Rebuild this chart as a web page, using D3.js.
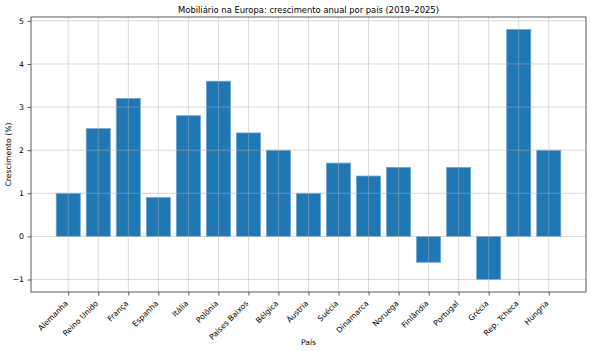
<!DOCTYPE html>
<html>
<head>
<meta charset="utf-8">
<script src="https://cdn.jsdelivr.net/npm/d3@7"></script>
<style>
  body { margin: 0; background: #fff; }
  text { font-family: 'DejaVu Sans', sans-serif; fill: #000; }
</style>
</head>
<body>
<div id="chart"></div>
<script>
// countries and yearly growth (%)
var countries = ['Alemanha', 'Reino Unido', 'França', 'Espanha', 'Itália', 'Polônia',
  'Países Baixos', 'Bélgica', 'Áustria', 'Suécia', 'Dinamarca', 'Noruega',
  'Finlândia', 'Portugal', 'Grécia', 'Rep. Tcheca', 'Hungria']
var growth = [1.0, 2.5, 3.2, 0.9, 2.8, 3.6, 2.4, 2.0, 1.0, 1.7, 1.4, 1.6, -0.6, 1.6, -1.0, 4.8, 2.0]
var yTicks = [-1, 0, 1, 2, 3, 4, 5]

var data = countries.map(function (c, i) { return { pais: c, valor: growth[i] } })

var margin = { top: 17, right: 5, bottom: 59, left: 31 }
var width = 591 - margin.left - margin.right
var height = 351 - margin.top - margin.bottom

var svg = d3.select('#chart')
  .append('svg')
  .attr('width', 591)
  .attr('height', 351)

var g = svg.append('g')
  .attr('transform', 'translate(' + margin.left + ',' + margin.top + ')')

// x like matplotlib: index positions with 5% margins
var x = d3.scaleLinear()
  .domain([-1.24, countries.length - 1 + 1.24])
  .range([0, width])
var barW = x(0.8) - x(0)

var ymin = d3.min(growth)
var ymax = d3.max(growth)
var pad = (ymax - ymin) * 0.05
var y = d3.scaleLinear()
  .domain([ymin - pad, ymax + pad])
  .range([height, 0])

// bars
g.selectAll('.bar')
  .data(data)
  .enter()
  .append('rect')
  .attr('class', 'bar')
  .attr('x', function (d, i) { return x(i) - barW / 2 })
  .attr('width', barW)
  .attr('y', function (d) { return y(Math.max(0, d.valor)) })
  .attr('height', function (d) { return Math.abs(y(d.valor) - y(0)) })
  .attr('fill', '#1f77b4')
  .attr('stroke', '#6fa3cf')
  .attr('stroke-width', 0.8)

// grid drawn over the bars
g.selectAll('.gx')
  .data(countries)
  .enter()
  .append('line')
  .attr('x1', function (d, i) { return x(i) })
  .attr('x2', function (d, i) { return x(i) })
  .attr('y1', 0)
  .attr('y2', height)
  .attr('stroke', '#b0b0b0')
  .attr('stroke-opacity', 0.6)
  .attr('stroke-width', 0.8)

g.selectAll('.gy')
  .data(yTicks)
  .enter()
  .append('line')
  .attr('x1', 0)
  .attr('x2', width)
  .attr('y1', function (d) { return y(d) })
  .attr('y2', function (d) { return y(d) })
  .attr('stroke', '#b0b0b0')
  .attr('stroke-opacity', 0.6)
  .attr('stroke-width', 0.8)

// frame
g.append('rect')
  .attr('width', width)
  .attr('height', height)
  .attr('fill', 'none')
  .attr('stroke', '#333')
  .attr('stroke-width', 0.8)

// y axis
var yAxis = d3.axisLeft(y)
  .tickValues(yTicks)
  .tickSize(3.5)
  .tickPadding(3.5)
  .tickFormat(function (d) { return d < 0 ? '\u2212' + Math.abs(d) : d })
var ya = g.append('g').call(yAxis)
ya.select('.domain').remove()
ya.selectAll('text').style('font-size', '7.7px')
ya.selectAll('line').attr('stroke', '#333').attr('stroke-width', 0.8)

// x axis
var xAxis = d3.axisBottom(x)
  .tickValues(d3.range(countries.length))
  .tickSize(3.5)
  .tickFormat(function (d) { return countries[d] })
var xa = g.append('g')
  .attr('transform', 'translate(0,' + height + ')')
  .call(xAxis)
xa.select('.domain').remove()
xa.selectAll('line').attr('stroke', '#333').attr('stroke-width', 0.8)
xa.selectAll('text')
  .style('font-size', '7.7px')
  .style('text-anchor', 'end')
  .attr('y', 0)
  .attr('dy', '0.35em')
  .attr('transform', 'translate(-2,10) rotate(-45)')

// title and labels
svg.append('text')
  .attr('x', margin.left + width / 2)
  .attr('y', 13)
  .style('text-anchor', 'middle')
  .style('font-size', '8.4px')
  .text('Mobiliário na Europa: crescimento anual por país (2019–2025)')

svg.append('text')
  .attr('x', margin.left + width / 2)
  .attr('y', 345)
  .style('text-anchor', 'middle')
  .style('font-size', '7.7px')
  .text('País')

svg.append('text')
  .attr('transform', 'translate(11,' + (margin.top + height / 2) + ') rotate(-90)')
  .style('text-anchor', 'middle')
  .style('font-size', '7.7px')
  .text('Crescimento (%)')
</script>
</body>
</html>
